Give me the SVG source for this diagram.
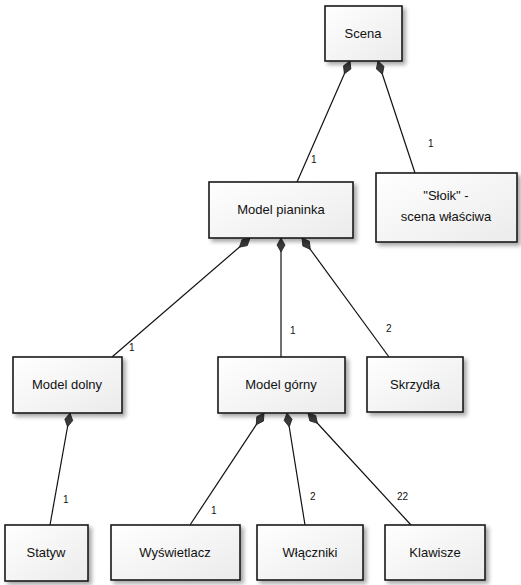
<svg xmlns="http://www.w3.org/2000/svg" width="521" height="585" viewBox="0 0 521 585">
<defs>
<linearGradient id="g" x1="0" y1="0" x2="1" y2="1">
<stop offset="0" stop-color="#ffffff"/>
<stop offset="1" stop-color="#ebebeb"/>
</linearGradient>
<filter id="sh" x="-10%" y="-10%" width="130%" height="130%">
<feGaussianBlur in="SourceAlpha" stdDeviation="2"/>
<feOffset dx="3" dy="3" result="b"/>
<feComponentTransfer><feFuncA type="linear" slope="0.35"/></feComponentTransfer>
<feMerge><feMergeNode/><feMergeNode in="SourceGraphic"/></feMerge>
</filter>
<marker id="dia" viewBox="-1 -5 17 10" refX="0" refY="0" markerWidth="17" markerHeight="10" markerUnits="userSpaceOnUse" orient="auto">
<path d="M0,0 L7,-4 L14,0 L7,4 z" fill="#3a3a3a" stroke="#222" stroke-width="0.8"/>
</marker>
</defs>
<style>
.box{fill:url(#g);stroke:#1a1a1a;stroke-width:1.6;filter:url(#sh)}
.t{font-family:"Liberation Sans",Arial,sans-serif;font-size:13px;fill:#111;text-anchor:middle}
.l{font-family:"Liberation Sans",Arial,sans-serif;font-size:10px;fill:#111}
.c{stroke:#111;stroke-width:1.2;fill:none;marker-start:url(#dia)}
</style>
<g id="connectors">
<line class="c" x1="350" y1="61" x2="297" y2="182"/>
<line class="c" x1="378" y1="61" x2="415" y2="173"/>
<line class="c" x1="250" y1="238" x2="112" y2="357"/>
<line class="c" x1="281" y1="238" x2="281" y2="357"/>
<line class="c" x1="302" y1="238" x2="389" y2="357"/>
<line class="c" x1="70" y1="413" x2="50" y2="525"/>
<line class="c" x1="264" y1="413" x2="190" y2="525"/>
<line class="c" x1="287" y1="413" x2="305" y2="525"/>
<line class="c" x1="308" y1="413" x2="411" y2="525"/>
<text class="l" x="311" y="163">1</text>
<text class="l" x="428" y="147">1</text>
<text class="l" x="129" y="351">1</text>
<text class="l" x="290" y="334">1</text>
<text class="l" x="386" y="332">2</text>
<text class="l" x="63" y="503">1</text>
<text class="l" x="211" y="514">1</text>
<text class="l" x="310" y="500">2</text>
<text class="l" x="397" y="500">22</text>
</g>
<g id="n-scena"><rect class="box" x="325" y="6" width="77" height="55"/><text class="t" x="363" y="38">Scena</text></g>
<g id="n-pianinka"><rect class="box" x="209" y="182" width="144" height="56"/><text class="t" x="281" y="214">Model pianinka</text></g>
<g id="n-sloik"><rect class="box" x="376" y="173" width="141" height="69"/><text class="t" x="446" y="200">"Słoik" -</text><text class="t" x="446" y="221">scena właściwa</text></g>
<g id="n-dolny"><rect class="box" x="13" y="357" width="109" height="56"/><text class="t" x="67" y="389">Model dolny</text></g>
<g id="n-gorny"><rect class="box" x="218" y="357" width="127" height="56"/><text class="t" x="281" y="389">Model górny</text></g>
<g id="n-skrzydla"><rect class="box" x="367" y="357" width="96" height="55"/><text class="t" x="415" y="389">Skrzydła</text></g>
<g id="n-statyw"><rect class="box" x="5" y="525" width="83" height="56"/><text class="t" x="46" y="557">Statyw</text></g>
<g id="n-wysw"><rect class="box" x="111" y="525" width="129" height="55"/><text class="t" x="175" y="557">Wyświetlacz</text></g>
<g id="n-wlaczniki"><rect class="box" x="257" y="525" width="106" height="55"/><text class="t" x="310" y="557">Włączniki</text></g>
<g id="n-klawisze"><rect class="box" x="385" y="525" width="100" height="55"/><text class="t" x="435" y="557">Klawisze</text></g>
</svg>
